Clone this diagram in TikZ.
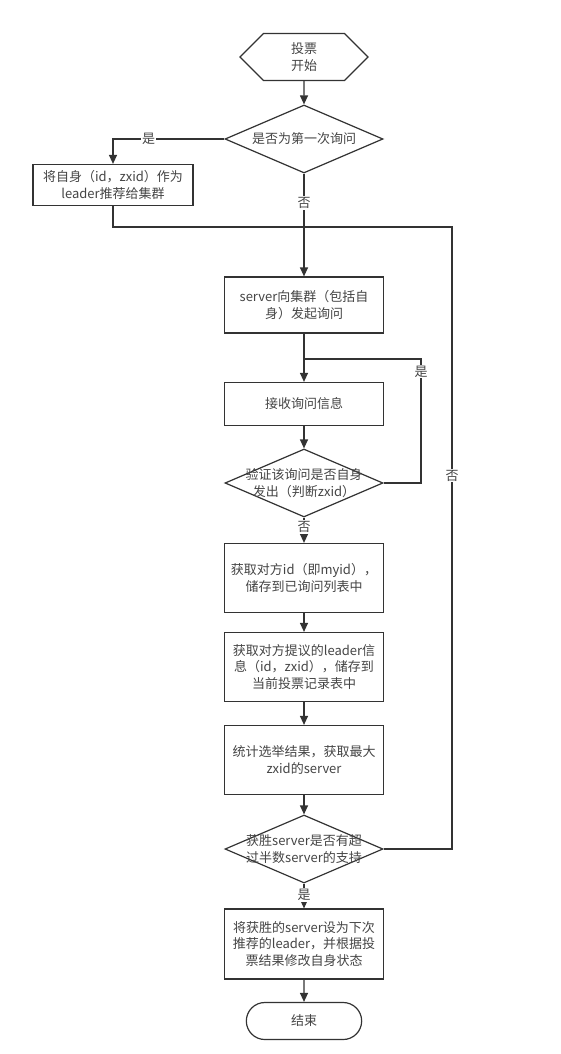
\documentclass[tikz,border=0pt]{standalone}
\usepackage{fontspec}
\setmainfont{Noto Sans CJK SC}
\usetikzlibrary{arrows.meta,shapes.geometric,shapes.symbols,shapes.misc}

\definecolor{linegray}{HTML}{333333}
\definecolor{textgray}{HTML}{444444}

\tikzset{
  every node/.style={font=\fontsize{13}{16.5}\selectfont, text=textgray},
  box/.style={draw=linegray, line width=1.2pt, minimum width=159pt, align=center, inner sep=2pt},
  decision/.style={draw=linegray, line width=1.2pt, diamond, minimum width=158pt, minimum height=68pt, inner sep=0pt},
  decisiontext/.style={align=center, inner sep=0pt},
  startbox/.style={draw=linegray, line width=1.2pt, signal, signal to=east and west, minimum width=128pt, minimum height=47pt, align=center},
  endbox/.style={draw=linegray, line width=1.2pt, rounded rectangle, minimum width=122pt, minimum height=37pt},
  line/.style={draw=linegray, line width=1.2pt},
  arrow/.style={line, -{Triangle[length=9pt,width=8pt]}},
  lbl/.style={fill=white, inner sep=1pt}
}

\begin{document}
\begin{tikzpicture}[x=1pt,y=-1pt]
  \useasboundingbox (0,0) rectangle (560,1054);

  \draw (304,57) node[startbox] (start) {投票\\开始};
  \draw (304,139) node[decision, label={[decisiontext]center:是否为第一次询问}] (first) {};
  \draw (113,185) node[box, minimum width=160pt, minimum height=41pt] (self) {将自身（id，zxid）作为\\leader推荐给集群};
    \draw (304,305) node[box, minimum height=56pt] (ask) {server向集群（包括自\\身）发起询问};
    \draw (304,404) node[box, minimum height=43pt] (recv) {接收询问信息};
    \draw (304,483) node[decision, label={[decisiontext]center:验证该询问是否自身\\发出（判断zxid）}] (check) {};
    \draw (304,578) node[box, minimum height=69pt] (getid) {获取对方id（即myid），\\储存到已询问列表中};
    \draw (304,667) node[box, minimum height=69pt] (getvote) {获取对方提议的leader信\\息（id，zxid），储存到\\当前投票记录表中};
    \draw (304,760) node[box, minimum height=69pt] (count) {统计选举结果，获取最大\\zxid的server};
    \draw (304,849) node[decision, label={[decisiontext]center:获胜server是否有超\\过半数server的支持}] (major) {};
    \draw (304,944) node[box, minimum height=70pt] (update) {将获胜的server设为下次\\推荐的leader，并根据投\\票结果修改自身状态};
    \draw (304,1021) node[endbox] (end) {结束};

  \coordinate (merge) at (304,227);
  \coordinate (backcorner) at (452,227);
  \coordinate (loopin) at (304,359);
  \coordinate (loopcorner) at (421,359);

     \draw[arrow] (start) -- (first);
     \draw[arrow] (first.west) -| node[lbl, pos=0.34] {是} (self.north);
     \draw[line] (first.south) -- node[lbl, pos=0.55] {否} (merge);
     \draw[line] (self.south) |- (merge);
     \draw[arrow] (merge) -- (ask.north);
     \draw[arrow] (ask.south) -- (recv.north);
     \draw[arrow] (recv) -- (check);
     \draw[line] (check.east) -| node[lbl, pos=0.95] {是} (loopcorner) -- (loopin);
     \draw[arrow] (check.south) -- node[lbl, pos=0.37] {否} (getid.north);
     \draw[arrow] (getid) -- (getvote);
     \draw[arrow] (getvote) -- (count);
     \draw[arrow] (count) -- (major);
     \draw[line] (major.east) -| node[lbl, pos=0.8] {否} (backcorner) -- (merge);
     \draw[arrow] (major.south) -- node[lbl, pos=0.46] {是} (update.north);
     \draw[arrow] (update) -- (end);

\end{tikzpicture}
\end{document}
